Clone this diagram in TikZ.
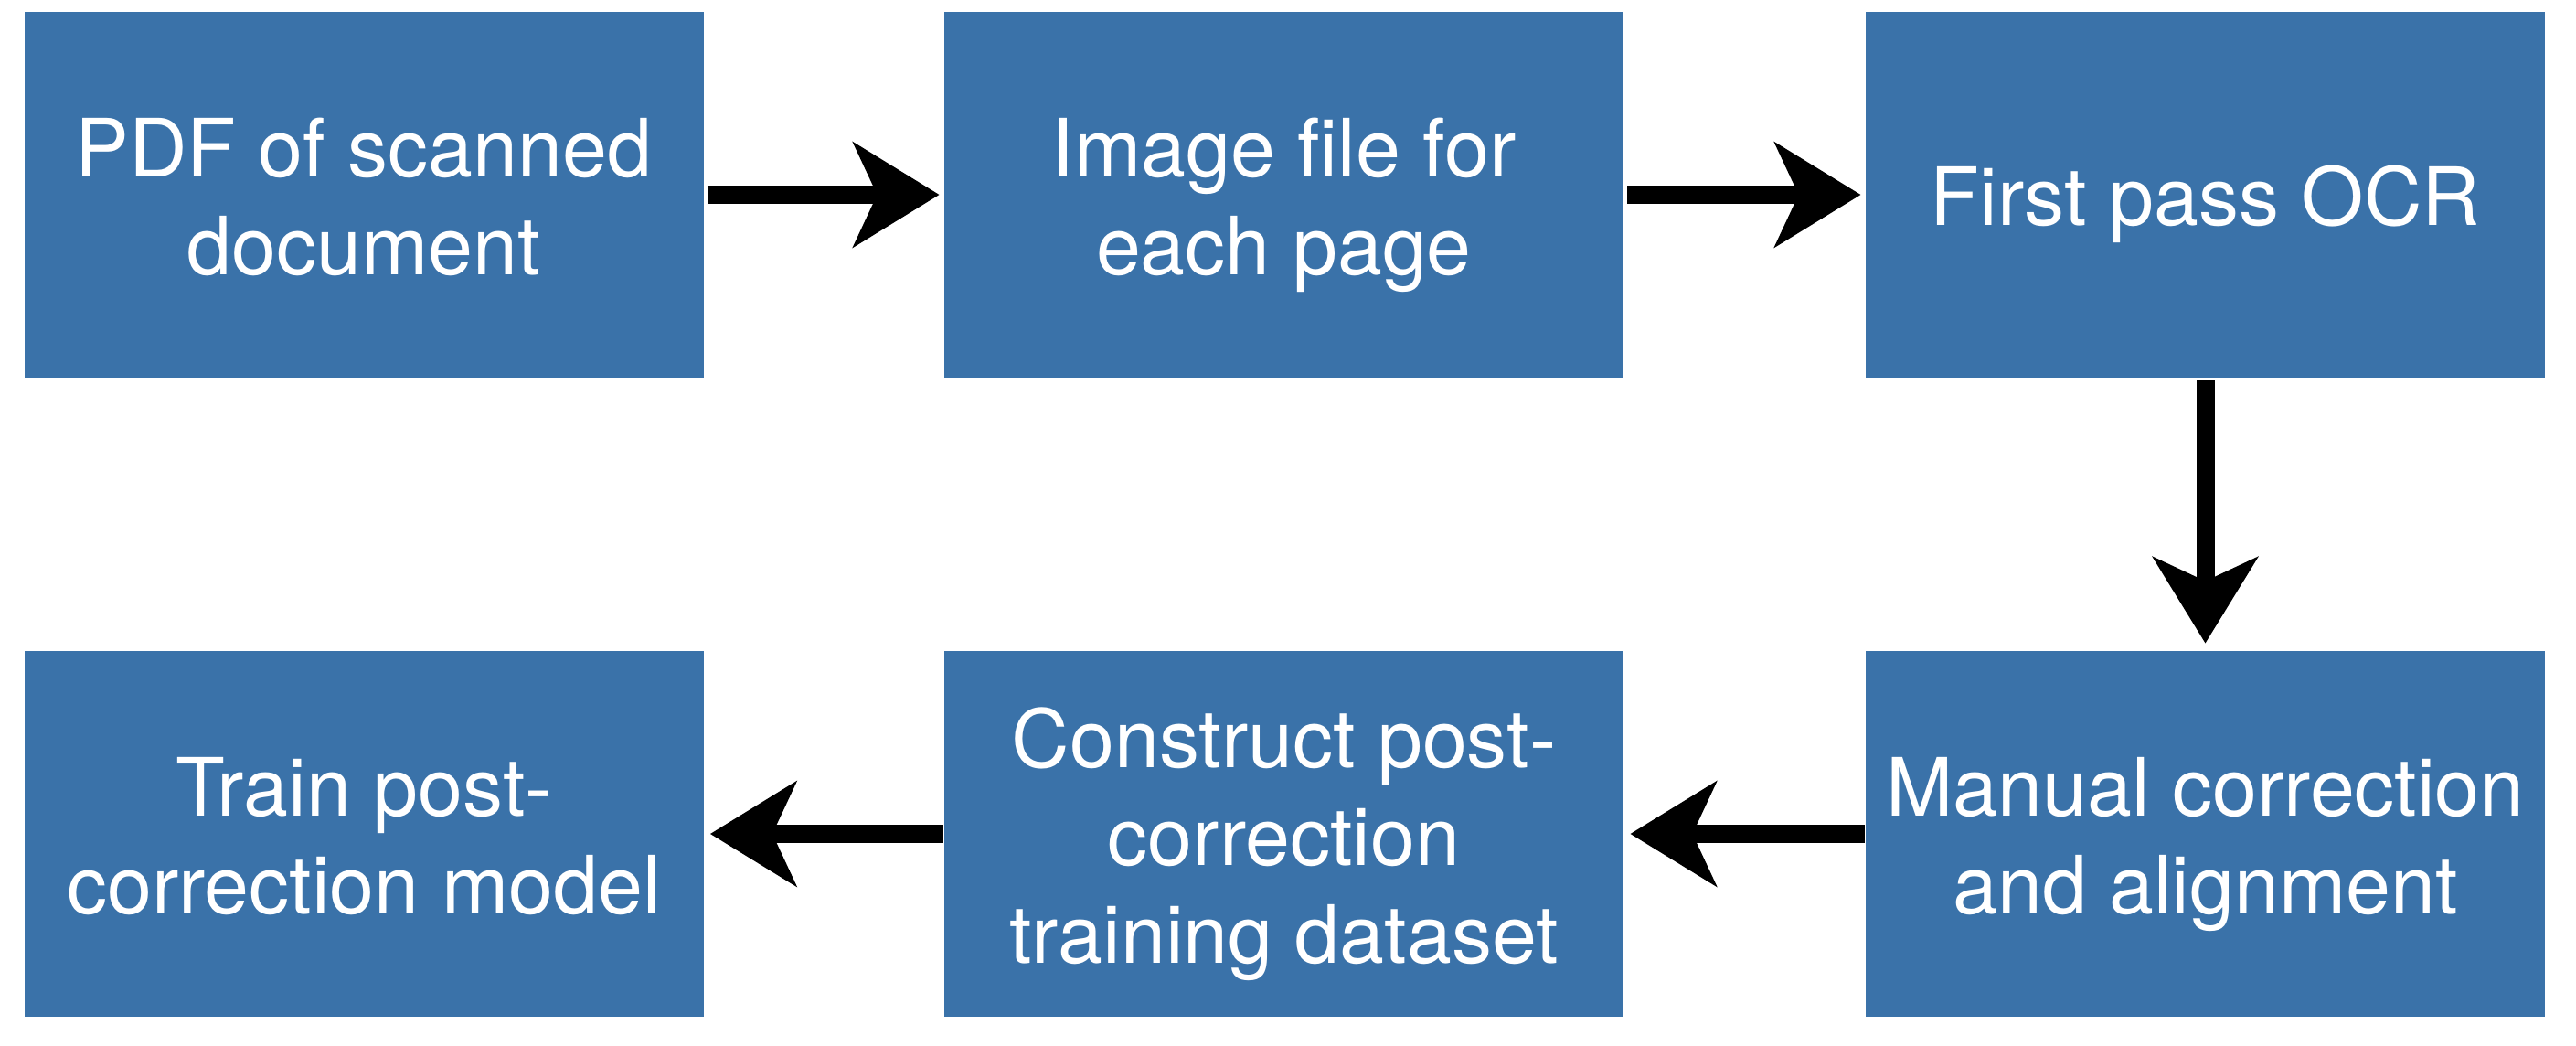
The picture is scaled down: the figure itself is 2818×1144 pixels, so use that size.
\documentclass[tikz,border=0pt]{standalone}
\usepackage{fontspec}
\setmainfont{TeX Gyre Heros}
\usetikzlibrary{arrows.meta}
\definecolor{boxblue}{RGB}{58,114,169}
\newcommand\firstline{\rule{0pt}{44pt}}
\newcommand\lastline{\rule[-10pt]{0pt}{10pt}}
\tikzset{
  stepbox/.style={rectangle, fill=boxblue, draw=none, text=white, inner sep=0pt,
    minimum width=371.5pt, minimum height=200pt, align=center,
    font=\fontsize{44}{53.5}\selectfont},
  sketcharrow/.style={line width=10pt, black,
    -{Stealth[length=47pt, width=57pt, inset=13pt]}}
}
\begin{document}
\begin{tikzpicture}[x=0.5pt, y=-0.5pt]
\useasboundingbox (0,0) rectangle (2818,1144);
\node[stepbox] (b1) at (398,213) {\firstline PDF of scanned\\\lastline document};
\node[stepbox] (b2) at (1404.5,213) {\firstline Image file for\\\lastline each page};
\node[stepbox] (b3) at (2412.5,213) {\firstline\lastline First pass OCR};
\node[stepbox] (b4) at (398,912) {\firstline Train post-\\\lastline correction model};
\node[stepbox] (b5) at (1404.5,912) {\firstline Construct post-\\correction\\\lastline training dataset};
\node[stepbox] (b6) at (2412.5,912) {\firstline Manual correction\\\lastline and alignment};
\draw[sketcharrow] ([xshift=2pt]b1.east) -- ([xshift=-2.5pt]b2.west);
\draw[sketcharrow] ([xshift=2pt]b2.east) -- ([xshift=-2.5pt]b3.west);
\draw[sketcharrow] ([yshift=-1.5pt]b3.south) -- ([yshift=4pt]b6.north);
\draw[sketcharrow] ([xshift=-0.5pt]b6.west) -- ([xshift=3.5pt]b5.east);
\draw[sketcharrow] ([xshift=-0.5pt]b5.west) -- ([xshift=3.5pt]b4.east);
\end{tikzpicture}
\end{document}
